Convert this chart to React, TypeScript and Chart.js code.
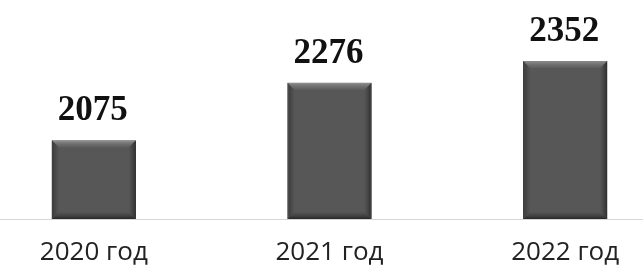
import React, { useEffect, useRef } from "react";
import { Chart, registerables } from "chart.js";

Chart.register(...registerables);

const categories = ["2020 год", "2021 год", "2022 год"];
const values = [2075, 2276, 2352];
const yMin = 1800;
const yMax = 2565;

const bevel = {
  id: "bevel",
  afterDatasetsDraw(chart: any) {
    const ctx = chart.ctx;
    const meta = chart.getDatasetMeta(0);
    ctx.save();
    meta.data.forEach((bar: any) => {
      const l = bar.x - bar.width / 2;
      const r = bar.x + bar.width / 2;
      const t = bar.y;
      const b = Math.min(bar.base, chart.chartArea.bottom);
      const d = 7;
      let g = ctx.createLinearGradient(0, t, 0, t + d);
      g.addColorStop(0, "rgba(150,150,150,0.9)");
      g.addColorStop(1, "rgba(110,110,110,0.3)");
      ctx.fillStyle = g;
      ctx.beginPath();
      ctx.moveTo(l, t);
      ctx.lineTo(r, t);
      ctx.lineTo(r - d, t + d);
      ctx.lineTo(l + d, t + d);
      ctx.closePath();
      ctx.fill();
      g = ctx.createLinearGradient(l, 0, l + d, 0);
      g.addColorStop(0, "rgba(40,40,40,0.7)");
      g.addColorStop(1, "rgba(60,60,60,0.1)");
      ctx.fillStyle = g;
      ctx.beginPath();
      ctx.moveTo(l, t);
      ctx.lineTo(l + d, t + d);
      ctx.lineTo(l + d, b - d);
      ctx.lineTo(l, b);
      ctx.closePath();
      ctx.fill();
      g = ctx.createLinearGradient(r, 0, r - d, 0);
      g.addColorStop(0, "rgba(30,30,30,0.8)");
      g.addColorStop(1, "rgba(60,60,60,0.1)");
      ctx.fillStyle = g;
      ctx.beginPath();
      ctx.moveTo(r, t);
      ctx.lineTo(r - d, t + d);
      ctx.lineTo(r - d, b - d);
      ctx.lineTo(r, b);
      ctx.closePath();
      ctx.fill();
      g = ctx.createLinearGradient(0, b, 0, b - d);
      g.addColorStop(0, "rgba(25,25,25,0.8)");
      g.addColorStop(1, "rgba(60,60,60,0.1)");
      ctx.fillStyle = g;
      ctx.beginPath();
      ctx.moveTo(l, b);
      ctx.lineTo(r, b);
      ctx.lineTo(r - d, b - d);
      ctx.lineTo(l + d, b - d);
      ctx.closePath();
      ctx.fill();
    });
    ctx.restore();
  },
};

const valueLabels = {
  id: "valueLabels",
  afterDatasetsDraw(chart: any) {
    const ctx = chart.ctx;
    const meta = chart.getDatasetMeta(0);
    ctx.save();
    ctx.font = "bold 35px 'Liberation Serif', 'Times New Roman', serif";
    ctx.fillStyle = "#111111";
    ctx.textAlign = "center";
    ctx.textBaseline = "alphabetic";
    meta.data.forEach((bar: any, i: number) => {
      ctx.fillText(String(values[i]), bar.x - 1, bar.y - 20);
    });
    ctx.restore();
  },
};

export default function App() {
  const ref = useRef<HTMLCanvasElement | null>(null);
  useEffect(() => {
    if (!ref.current) return;
    const ctx = ref.current.getContext("2d")!;
    const chart = new Chart(ctx, {
      type: "bar",
      data: {
        labels: categories,
        datasets: [
          {
            data: values,
            backgroundColor: "#575757",
            borderColor: "#3a3a3a",
            borderWidth: 1,
            barPercentage: 0.357,
            categoryPercentage: 1,
          },
        ],
      },
      options: {
        animation: false,
        responsive: false,
        layout: { padding: 0 },
        plugins: { legend: { display: false }, tooltip: { enabled: false } },
        scales: {
          y: { display: false, min: yMin, max: yMax },
          x: {
            grid: { display: false, drawTicks: false },
            border: { display: true, color: "#d6d6d6", width: 1 },
            ticks: {
              font: { family: "'Open Sans', sans-serif", size: 26 },
              color: "#222222",
              padding: 18,
              maxRotation: 0,
            },
            afterFit: (scale: any) => {
              scale.height = 52;
            },
          },
        },
      },
      plugins: [bevel, valueLabels],
    });
    return () => chart.destroy();
  }, []);
  return (
    <div
      style={{
        position: "fixed",
        top: 0,
        left: 0,
        width: 643,
        height: 271,
        overflow: "hidden",
        background: "#ffffff",
      }}
    >
      <canvas
        ref={ref}
        width={707}
        height={271}
        style={{ position: "absolute", left: -24, top: 0, width: 707, height: 271 }}
      />
    </div>
  );
}
